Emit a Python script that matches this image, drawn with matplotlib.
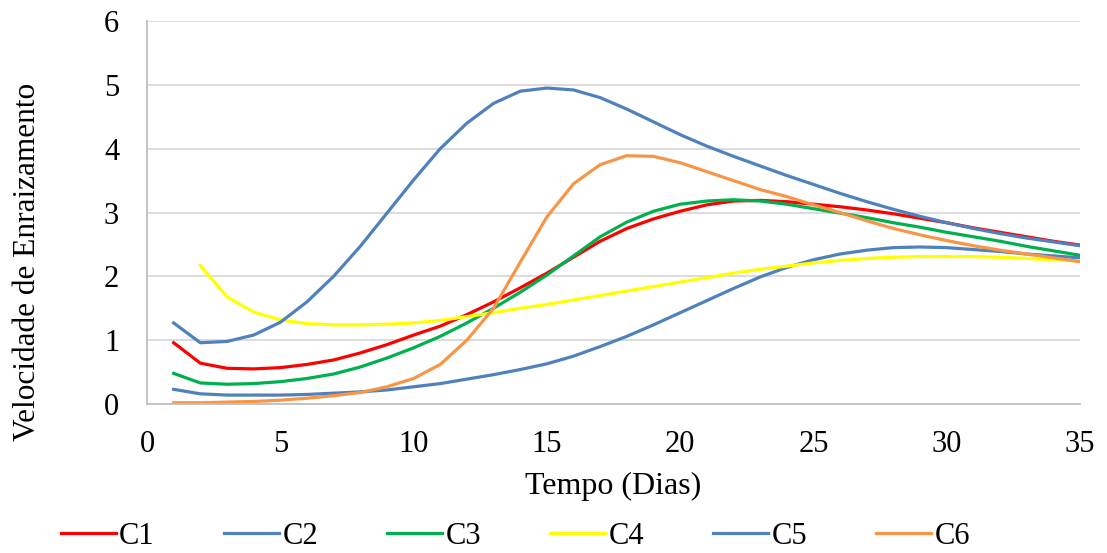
import matplotlib
matplotlib.use("Agg")
import matplotlib.pyplot as plt

plt.rcParams['font.family'] = ['Liberation Serif', 'DejaVu Serif']

# dias
dias = list(range(1, 36))
dias_c4 = list(range(2, 36))

# velocidade de enraizamento
c1 = [0.96, 0.64, 0.56, 0.55, 0.57, 0.62, 0.69, 0.80, 0.93, 1.08,
      1.22, 1.40, 1.60, 1.82, 2.05, 2.30, 2.55, 2.75, 2.90, 3.02,
      3.12, 3.18, 3.19, 3.17, 3.13, 3.09, 3.04, 2.98, 2.91, 2.84,
      2.76, 2.69, 2.62, 2.55, 2.49]
c2 = [0.23, 0.16, 0.14, 0.14, 0.14, 0.15, 0.17, 0.19, 0.22, 0.27,
      0.32, 0.39, 0.46, 0.54, 0.63, 0.75, 0.90, 1.06, 1.24, 1.43,
      1.62, 1.81, 1.99, 2.14, 2.26, 2.35, 2.41, 2.45, 2.46, 2.45,
      2.42, 2.39, 2.35, 2.32, 2.29]
c3 = [0.48, 0.33, 0.31, 0.32, 0.35, 0.40, 0.47, 0.58, 0.72, 0.88,
      1.06, 1.27, 1.50, 1.75, 2.02, 2.32, 2.62, 2.85, 3.02, 3.13,
      3.18, 3.20, 3.18, 3.13, 3.06, 2.99, 2.92, 2.84, 2.77, 2.69,
      2.62, 2.55, 2.47, 2.40, 2.33]
c4 = [2.17, 1.68, 1.44, 1.32, 1.26, 1.24, 1.24, 1.25, 1.27,
      1.31, 1.37, 1.43, 1.50, 1.56, 1.63, 1.70, 1.77, 1.84, 1.91,
      1.98, 2.05, 2.11, 2.16, 2.21, 2.25, 2.28, 2.30, 2.31, 2.31,
      2.31, 2.30, 2.28, 2.26, 2.24]
c5 = [1.27, 0.96, 0.98, 1.08, 1.28, 1.60, 2.00, 2.47, 2.99, 3.51,
      4.00, 4.40, 4.71, 4.90, 4.95, 4.92, 4.80, 4.62, 4.42, 4.22,
      4.04, 3.88, 3.73, 3.58, 3.44, 3.30, 3.17, 3.05, 2.94, 2.84,
      2.75, 2.67, 2.60, 2.54, 2.48]
c6 = [0.02, 0.02, 0.03, 0.04, 0.06, 0.09, 0.13, 0.18, 0.27, 0.40,
      0.62, 1.00, 1.50, 2.22, 2.93, 3.45, 3.75, 3.89, 3.88, 3.78,
      3.64, 3.50, 3.36, 3.25, 3.12, 3.00, 2.87, 2.75, 2.65, 2.56,
      2.48, 2.41, 2.35, 2.29, 2.23]

fig = plt.figure(figsize=(11.07, 5.53), dpi=100)
ax = fig.add_axes([0.1328, 0.2694, 0.8428, 0.6926])

lw = 2.3
ax.plot(dias, c1, color='#FF0000', lw=lw, label='C1')
ax.plot(dias, c2, color='#4F81BD', lw=lw, label='C2')
ax.plot(dias, c3, color='#00B050', lw=lw, label='C3')
ax.plot(dias_c4, c4, color='#FFFF00', lw=lw, label='C4')
ax.plot(dias, c5, color='#4F81BD', lw=lw, label='C5')
ax.plot(dias, c6, color='#F79646', lw=lw, label='C6')

ax.set_xlim(0, 35)
ax.set_ylim(0, 6)
ax.set_xticks(range(0, 36, 5))
ax.set_yticks(range(0, 7))
ax.grid(axis='y', color='#D9D9D9', lw=1.3)
ax.set_axisbelow(True)
for s in ['top', 'right']:
    ax.spines[s].set_visible(False)
for s in ['left', 'bottom']:
    ax.spines[s].set_color('#BFBFBF')
    ax.spines[s].set_linewidth(1.3)
ax.tick_params(axis='both', length=0, labelsize=22)
ax.tick_params(axis='x', pad=19)
ax.tick_params(axis='y', pad=20)

ax.set_xlabel('Tempo (Dias)', fontsize=23, labelpad=9)
ax.set_ylabel('Velocidade de Enraizamento', fontsize=22.5)
ax.yaxis.set_label_coords(-0.113, 0.37)

ax.legend(loc='upper center', bbox_to_anchor=(0.395, -0.275), ncol=6,
          frameon=False, fontsize=22, handlelength=1.8, handletextpad=0.1,
          columnspacing=2.27, borderaxespad=0)

fig.savefig('out.png', dpi=100)
